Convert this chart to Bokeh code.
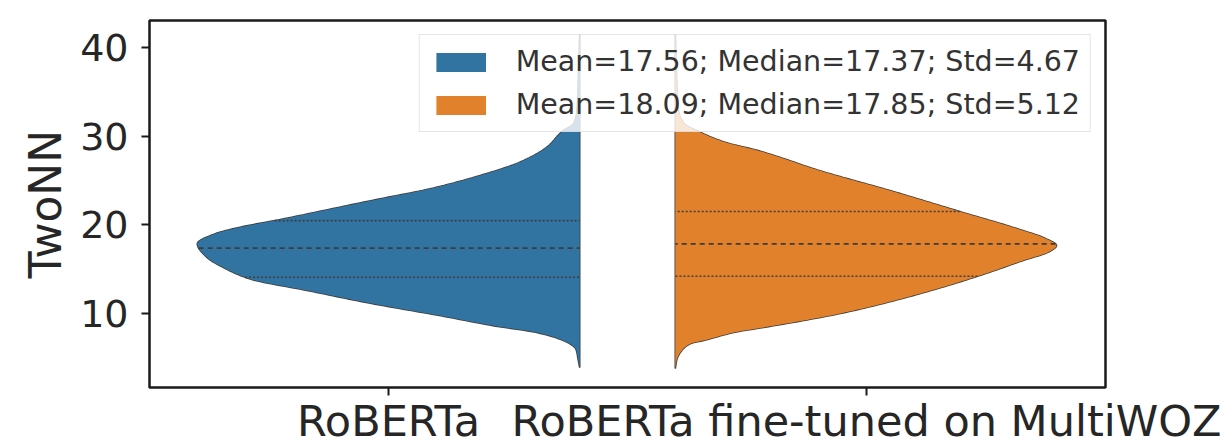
import numpy as np
from bokeh.plotting import figure
from bokeh.models import FixedTicker, Legend, LegendItem
from bokeh.embed import file_html
from bokeh.resources import INLINE

# Models compared and the summary shown in the legend
categories = ["RoBERTa", "RoBERTa fine-tuned on MultiWOZ"]
legend_labels = [
    "Mean=17.56; Median=17.37; Std=4.67",
    "Mean=18.09; Median=17.85; Std=5.12",
]
colors = ["#3274a1", "#e1812c"]

# Estimated density of TwoNN values (value, density relative to the peak)
roberta_y = [3.9, 4.8, 6.0, 6.6, 7.2, 7.9, 8.6, 9.77, 11.1, 12.6, 13.9, 15.2, 16.3,
             17.86, 19.0, 19.73, 20.67, 22.0, 22.93, 24.06, 25.56, 27.06, 28.76,
             30.6, 31.4, 33.0, 36.0, 41.5]
roberta_density = [0, .004, .010, .026, .057, .117, .222, .366, .540, .713, .862,
                   .932, .974, 1.0, .953, .888, .775, .627, .522, .392, .261, .157,
                   .086, .044, .016, .007, .004, 0]

finetuned_y = [3.8, 4.8, 5.6, 6.6, 7.0, 7.9, 8.46, 10.0, 11.84, 14.1, 15.97, 17.0,
               17.67, 18.5, 19.36, 21.6, 23.87, 26.0, 28.4, 29.3, 30.45, 31.5, 33.0,
               36.0, 41.5]
finetuned_density = [0, .004, .013, .039, .078, .157, .235, .431, .606, .783, .909,
                     .979, .997, .966, .909, .736, .561, .386, .214, .131, .065, .021,
                     .008, .004, 0]

# Lower quartile, median, upper quartile
roberta_quartiles = [14.09, 17.37, 20.48]
finetuned_quartiles = [14.2, 17.85, 21.5]

MAX_WIDTH = 0.8
OUTLINE = "#3d3d3d"
TEXT = "#262626"
FONT = "DejaVu Sans"


def pchip(x, y, xn):
    """Monotone cubic (Fritsch-Carlson) interpolation of y(x) at xn."""
    x = np.asarray(x, float)
    y = np.asarray(y, float)
    h = np.diff(x)
    delta = np.diff(y) / h
    n = len(x)
    d = np.zeros(n)
    for k in range(1, n - 1):
        if delta[k - 1] * delta[k] > 0:
            w1 = 2 * h[k] + h[k - 1]
            w2 = h[k] + 2 * h[k - 1]
            d[k] = (w1 + w2) / (w1 / delta[k - 1] + w2 / delta[k])
    d[0] = delta[0]
    d[-1] = delta[-1]
    idx = np.clip(np.searchsorted(x, xn) - 1, 0, n - 2)
    t = (xn - x[idx]) / h[idx]
    h00 = 2 * t**3 - 3 * t**2 + 1
    h10 = t**3 - 2 * t**2 + t
    h01 = -2 * t**3 + 3 * t**2
    h11 = t**3 - t**2
    return (h00 * y[idx] + h10 * h[idx] * d[idx]
            + h01 * y[idx + 1] + h11 * h[idx] * d[idx + 1])


p = figure(width=1230, height=448, x_range=(-0.5, 1.5), y_range=(1.66, 43.04),
           output_backend="svg", toolbar_location=None,
           min_border_left=149, min_border_right=125,
           min_border_top=20, min_border_bottom=61)

p.xgrid.visible = False
p.ygrid.visible = False
p.background_fill_color = "white"
p.border_fill_color = "white"
p.outline_line_color = "#1a1a1a"
p.outline_line_width = 2.5


def half_violin(pos, ys, dens, quartiles, color, side):
    ys = np.asarray(ys, dtype=float)
    grid = np.linspace(ys[0], ys[-1], 400)
    smooth = np.clip(pchip(ys, dens, grid), 0, None)
    # flat edge sits between the two categories
    flat = pos + (0.4 if side == "left" else -0.4)
    sign = -1 if side == "left" else 1
    xs = flat + sign * MAX_WIDTH * smooth
    px = np.concatenate([xs, [flat, flat]])
    py = np.concatenate([grid, [grid[-1], grid[0]]])
    p.patch(px, py, fill_color=color, line_color=OUTLINE, line_width=1.6)
    swatch = p.patch(px, py, fill_color=color, line_alpha=0)
    qw = pchip(ys, dens, np.asarray(quartiles, float))
    x_edge = flat + sign * MAX_WIDTH * qw
    dashes = ["2 2", "5 4", "2 2"]
    for q, xe, d in zip(quartiles, x_edge, dashes):
        p.segment(x0=[xe], y0=[q], x1=[flat], y1=[q], line_color=OUTLINE,
                  line_width=1.6, line_dash=d)
    return swatch


sw0 = half_violin(0, roberta_y, roberta_density, roberta_quartiles, colors[0], "left")
sw1 = half_violin(1, finetuned_y, finetuned_density, finetuned_quartiles, colors[1], "right")

legend = Legend(items=[LegendItem(label=legend_labels[0], renderers=[sw0]),
                       LegendItem(label=legend_labels[1], renderers=[sw1])],
                location="top_right", margin=14, padding=10,
                spacing=10, glyph_width=62, glyph_height=24, label_height=24,
                label_standoff=24, label_text_font=FONT, label_text_font_size="28.5px",
                label_text_color="#333333", border_line_color="#cccccc",
                border_line_width=1.5, background_fill_color="white",
                background_fill_alpha=0.8)
p.add_layout(legend)

# Axes
p.xaxis.ticker = FixedTicker(ticks=[0, 1])
p.xaxis.major_label_overrides = {0: categories[0], 1: categories[1]}
p.yaxis.ticker = FixedTicker(ticks=[10, 20, 30, 40])
p.yaxis.axis_label = "TwoNN"

for ax in (p.xaxis[0], p.yaxis[0]):
    ax.axis_line_color = None
    ax.major_tick_out = 8
    ax.major_tick_in = 0
    ax.major_tick_line_width = 2
    ax.major_tick_line_color = "#1a1a1a"
    ax.minor_tick_line_color = None
    ax.major_label_text_font = FONT
    ax.major_label_text_color = TEXT

p.xaxis.major_label_text_font_size = "43px"
p.yaxis.major_label_text_font_size = "38px"
p.xaxis.major_label_standoff = 0
p.yaxis.major_label_standoff = 13
p.yaxis.axis_label_text_font = FONT
p.yaxis.axis_label_text_font_size = "44px"
p.yaxis.axis_label_text_font_style = "normal"
p.yaxis.axis_label_text_color = TEXT
p.yaxis.axis_label_standoff = 6

open("out.html", "w").write(file_html(p, INLINE))
